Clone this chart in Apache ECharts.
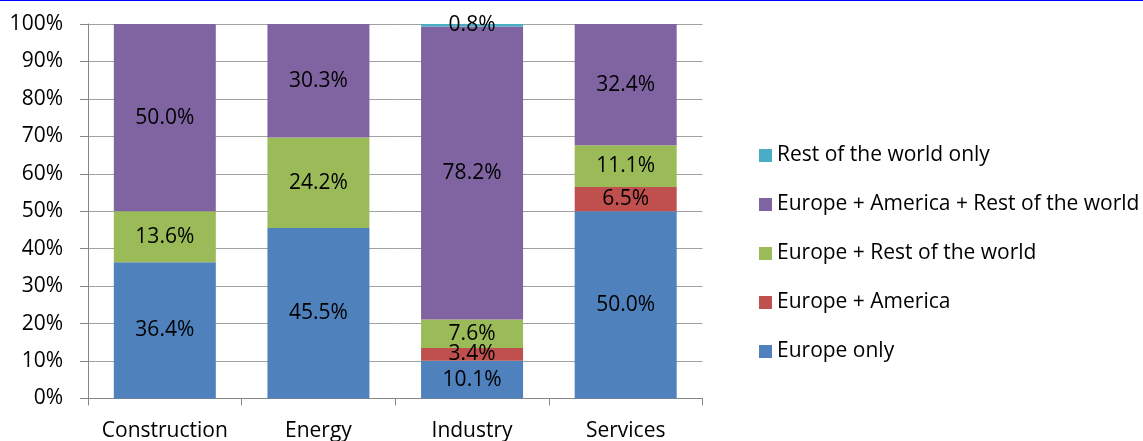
<!DOCTYPE html>
<html>
<head>
<meta charset="utf-8">
<style>
  html, body { margin: 0; padding: 0; background: #ffffff; }
  #chart { width: 1143px; height: 441px; }
</style>
<script src="https://cdn.jsdelivr.net/npm/echarts@6/dist/echarts.min.js"></script>
</head>
<body>
<div id="chart"></div>
<script>
// Sectors along the x axis
const categories = ['Construction', 'Energy', 'Industry', 'Services'];

// Share of firms (%) per market reach, stacked bottom to top
const europeOnly         = [36.4, 45.5, 10.1, 50.0];
const europeAmerica      = [0, 0, 3.4, 6.5];
const europeRestWorld    = [13.6, 24.2, 7.6, 11.1];
const europeAmericaRest  = [50.0, 30.3, 78.2, 32.4];
const restWorldOnly      = [0, 0, 0.8, 0];

const seriesNames = [
  'Europe only',
  'Europe + America',
  'Europe + Rest of the world',
  'Europe + America + Rest of the world',
  'Rest of the world only'
];
const seriesValues = [europeOnly, europeAmerica, europeRestWorld, europeAmericaRest, restWorldOnly];
const seriesColors = ['#4F81BD', '#C0504D', '#9BBB59', '#8064A2', '#4BACC6'];

const FONT = '"Open Sans", "Liberation Sans", sans-serif';
const FONT_SIZE = 21;
const chart = echarts.init(document.getElementById('chart'), null, { renderer: 'canvas' });

const series = seriesNames.map((name, i) => ({
  name: name,
  type: 'bar',
  stack: 'share',
  barWidth: '66.4%',
  itemStyle: { color: seriesColors[i] },
  label: {
    show: true,
    position: 'inside',
    color: '#000000',
    fontFamily: FONT,
    fontSize: FONT_SIZE,
    formatter: p => (p.value > 0 ? p.value.toFixed(1) + '%' : '')
  },
  data: seriesValues[i]
}));

chart.setOption({
  animation: false,
  backgroundColor: '#ffffff',
  textStyle: { fontFamily: FONT },
  graphic: [{
    type: 'rect',
    left: 0,
    top: 0,
    shape: { width: 1143, height: 1 },
    style: { fill: '#0000FF' },
    silent: true
  }],
  grid: {
    left: 88, right: 440.5, top: 24, bottom: 42.5,
    containLabel: false,
    outerBoundsMode: 'none'
  },
  legend: {
    orient: 'vertical',
    left: 759,
    top: 145,
    padding: 0,
    itemWidth: 13,
    itemHeight: 13,
    itemGap: 28,
    icon: 'rect',
    textStyle: { fontFamily: FONT, fontSize: FONT_SIZE, color: '#000000', lineHeight: 20 },
    data: seriesNames.slice().reverse()
  },
  xAxis: {
    type: 'category',
    data: categories,
    axisLine: { lineStyle: { color: '#868686', width: 1 } },
    axisTick: { show: true, length: 7, lineStyle: { color: '#868686' } },
    axisLabel: { interval: 0, color: '#000000', fontFamily: FONT, fontSize: FONT_SIZE, margin: 22 }
  },
  yAxis: {
    type: 'value',
    min: 0,
    max: 100,
    interval: 10,
    axisLine: { show: true, lineStyle: { color: '#868686', width: 1 } },
    axisTick: { show: true, length: 8, lineStyle: { color: '#868686' } },
    axisLabel: { color: '#000000', fontFamily: FONT, fontSize: FONT_SIZE, margin: 25, formatter: '{value}%' },
    splitLine: { show: true, lineStyle: { color: '#A0A0A0', width: 1 } }
  },
  series: series
});
</script>
</body>
</html>
